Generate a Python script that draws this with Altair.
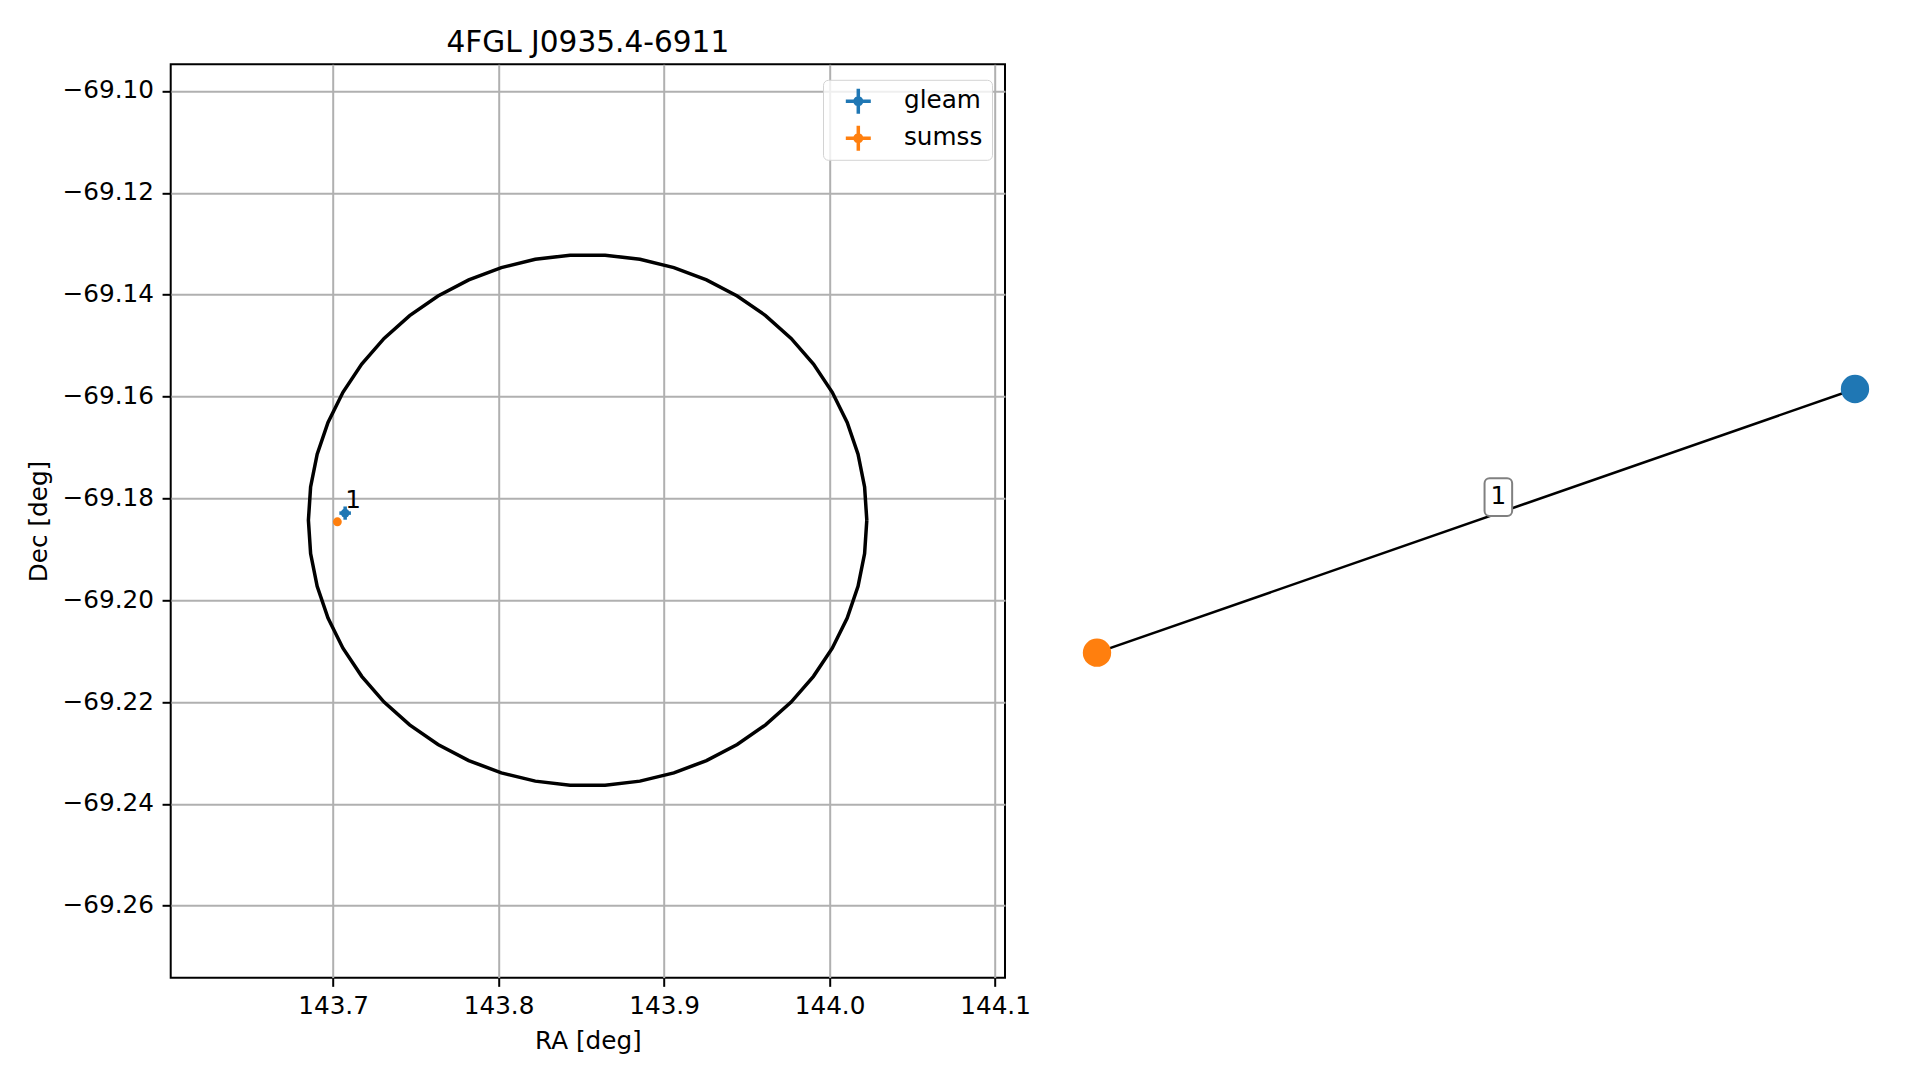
import altair as alt
import numpy as np
import pandas as pd

# ---------------- data ----------------
TITLE = "4FGL J0935.4-6911"
catalogs = ["gleam", "sumss"]
cat_colors = ["#1f77b4", "#ff7f0e"]
src_ra = [143.7073, 143.7026]
src_dec = [-69.1829, -69.1846]
src_ra_err = [0.0035, 0.0010]
src_dec_err = [0.0013, 0.0006]
match_label = ["1"]

# 4FGL error ellipse
ell_ra0 = 143.8538
ell_dec0 = -69.1843
ell_a = 0.1687
ell_b = 0.05216
ell_n = 50

x_ticks = [143.7, 143.8, 143.9, 144.0, 144.1]
y_ticks = [-69.10, -69.12, -69.14, -69.16, -69.18, -69.20, -69.22, -69.24, -69.26]
x_domain = [143.6019, 144.1060]
y_domain = [-69.27414, -69.09476]

# match graph (layout coordinates)
node_names = ["gleam", "sumss"]
node_colors = ["#1f77b4", "#ff7f0e"]
node_x = [1.0, -1.0]
node_y = [0.35, -0.35]
edge_label = ["1"]
edge_label_x = [0.059]
edge_label_y = [0.063]

# ---------------- layout ----------------
W, H = 834.3, 913.4
PAD_L, PAD_T = 162.7, 56.3
GX_RANGE = [926.3, 1684.3]
GY_RANGE = [588.4, 324.7]
FONT = "DejaVu Sans"
FS = 24.7

pts = pd.DataFrame({
    "catalog": catalogs, "color": cat_colors, "ra": src_ra, "dec": src_dec,
    "ra_lo": np.array(src_ra) - np.array(src_ra_err),
    "ra_hi": np.array(src_ra) + np.array(src_ra_err),
    "dec_lo": np.array(src_dec) - np.array(src_dec_err),
    "dec_hi": np.array(src_dec) + np.array(src_dec_err),
})
lab = pts.iloc[[0]].copy()
lab["label"] = match_label

t = np.linspace(0, 2 * np.pi, ell_n + 1)
ell = pd.DataFrame({"ra": ell_ra0 + ell_a * np.cos(t),
                    "dec": ell_dec0 + ell_b * np.sin(t),
                    "i": np.arange(ell_n + 1)})

nodes = pd.DataFrame({"name": node_names, "color": node_colors, "gx": node_x, "gy": node_y})
edges = pd.DataFrame({"x1": [node_x[1]], "y1": [node_y[1]], "x2": [node_x[0]], "y2": [node_y[0]]})
elab = pd.DataFrame({"label": edge_label, "gx": edge_label_x, "gy": edge_label_y})

xscale = alt.Scale(domain=x_domain, nice=False, zero=False)
yscale = alt.Scale(domain=y_domain, nice=False, zero=False)
xaxis = alt.Axis(values=x_ticks, format=".1f", title="RA [deg]", labelBaseline="alphabetic",
                 labelPadding=26.7, titleBaseline="alphabetic", titleY=71)
yaxis = alt.Axis(values=y_ticks, format=".2f", title="Dec [deg]", labelPadding=8.65,
                 titleBaseline="alphabetic", titleAngle=-90, titleX=-124.5, titleY=H / 2)


def X(f):
    return alt.X(f, type="quantitative", scale=xscale, axis=xaxis)


def Y(f):
    return alt.Y(f, type="quantitative", scale=yscale, axis=yaxis)


ellipse = alt.Chart(ell).mark_line(color="black", strokeWidth=3.5).encode(
    x=X("ra"), y=Y("dec"), order=alt.Order("i:Q"))

vbar = alt.Chart(pts).mark_rule(strokeWidth=3.5).encode(
    x=X("ra"), y=Y("dec_lo"), y2="dec_hi", stroke=alt.Stroke("color:N", scale=None))
hbar = alt.Chart(pts).mark_rule(strokeWidth=3.5).encode(
    x=X("ra_lo"), x2="ra_hi", y=Y("dec"), stroke=alt.Stroke("color:N", scale=None))

LEG_PATH = ("M-1,-0.14H1V0.14H-1Z M-0.14,-1H0.14V1H-0.14Z "
            "M-0.4,0A0.4,0.4 0 1,1 0.4,0A0.4,0.4 0 1,1 -0.4,0Z")

points = alt.Chart(pts).mark_point(filled=True, size=78, opacity=1).encode(
    x=X("ra"), y=Y("dec"),
    color=alt.Color("catalog:N", scale=alt.Scale(domain=catalogs, range=cat_colors),
                    legend=alt.Legend(title=None, orient="none", legendX=652.3, legendY=15.5,
                                      symbolType=LEG_PATH, symbolSize=625, symbolStrokeWidth=0,
                                      symbolOffset=13.8, labelOffset=33.2, rowPadding=11,
                                      padding=9, fillColor="rgba(255,255,255,0.8)",
                                      strokeColor="#d3d3d3", cornerRadius=5,
                                      labelFontSize=FS, labelFont=FONT, labelColor="black")))

txt = alt.Chart(lab).mark_text(align="left", baseline="alphabetic", dy=-5, fontSize=FS,
                               font=FONT, color="black").encode(
    x=X("ra"), y=Y("dec"), text="label:N")

left = alt.layer(ellipse, vbar, hbar, points, txt)

gx = alt.Scale(domain=[-1, 1], range=GX_RANGE, nice=False, zero=False)
gy = alt.Scale(domain=[-0.35, 0.35], range=GY_RANGE, nice=False, zero=False)

edge = alt.Chart(edges).mark_rule(color="black", strokeWidth=2.5).encode(
    x=alt.X("x1:Q", scale=gx, axis=None), y=alt.Y("y1:Q", scale=gy, axis=None),
    x2="x2:Q", y2="y2:Q")
gnodes = alt.Chart(nodes).mark_circle(size=804, opacity=1).encode(
    x=alt.X("gx:Q", scale=gx, axis=None), y=alt.Y("gy:Q", scale=gy, axis=None),
    fill=alt.Fill("color:N", scale=None))
BOX_PATH = ("M-0.467,-1H0.467A0.265,0.265 0 0 1 0.732,-0.735V0.735A0.265,0.265 0 0 1 0.467,1"
            "H-0.467A0.265,0.265 0 0 1 -0.732,0.735V-0.735A0.265,0.265 0 0 1 -0.467,-1Z")
gbox = alt.Chart(elab).mark_point(shape=BOX_PATH, size=1421, filled=True, fill="white",
                                  stroke="#808080", strokeWidth=2, opacity=1).encode(
    x=alt.X("gx:Q", scale=gx, axis=None), y=alt.Y("gy:Q", scale=gy, axis=None))
gtext = alt.Chart(elab).mark_text(fontSize=FS, font=FONT, color="black", align="center",
                                  baseline="middle").encode(
    x=alt.X("gx:Q", scale=gx, axis=None), y=alt.Y("gy:Q", scale=gy, axis=None), text="label:N")

right = alt.layer(edge, gnodes, gbox, gtext)

chart = alt.layer(left, right).resolve_scale(x="independent", y="independent").properties(
    width=W, height=H,
    title=alt.Title(TITLE, fontSize=29.6, font=FONT, fontWeight="normal", anchor="middle",
                    frame="group", baseline="alphabetic", offset=15, dy=32, color="black"),
    padding={"left": PAD_L, "top": PAD_T, "right": 880, "bottom": 85},
    autosize=alt.AutoSizeParams(type="none"),
).configure_view(stroke="black", strokeWidth=2).configure_axis(
    domain=False, grid=True, gridColor="#b0b0b0", gridWidth=2, tickColor="black",
    tickWidth=2, tickSize=8.65, labelFont=FONT, labelFontSize=FS, labelColor="black",
    titleFont=FONT, titleFontSize=FS, titleFontWeight="normal", titleColor="black")

chart.save("out.html", embed_options={"renderer": "svg", "actions": False})
